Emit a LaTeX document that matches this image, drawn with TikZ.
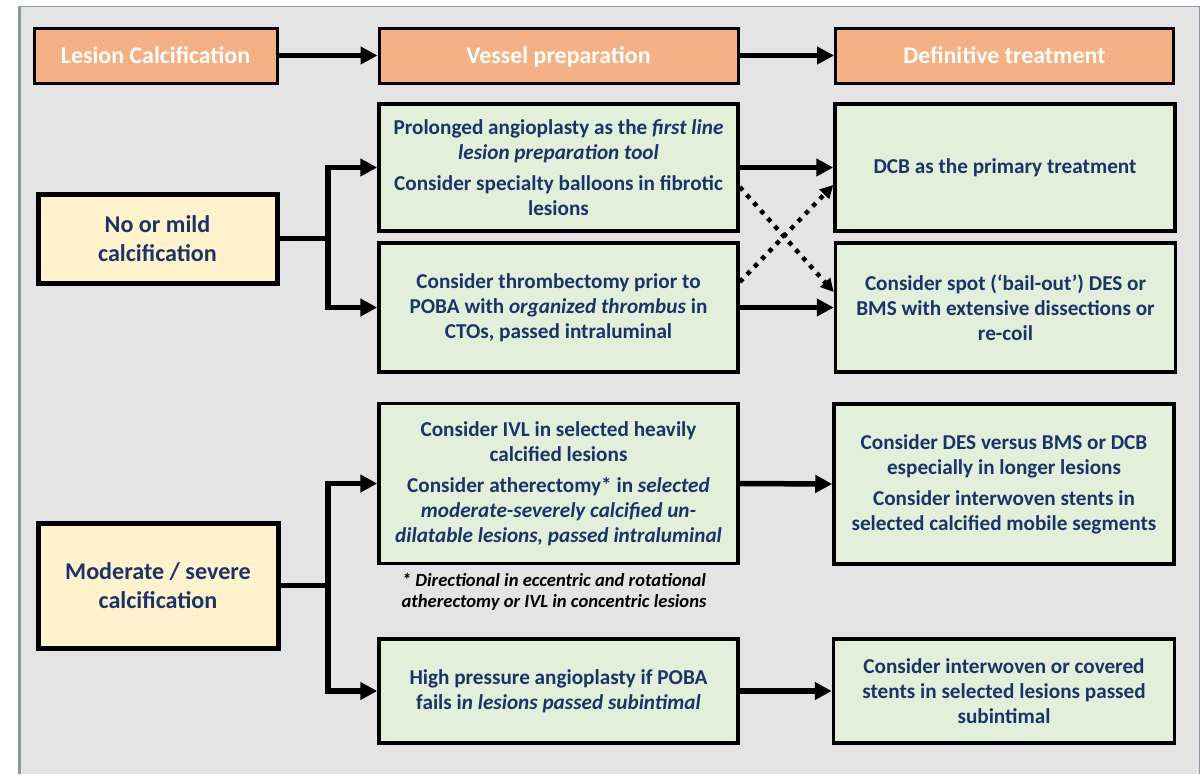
\documentclass[tikz,border=0pt]{standalone}
\usepackage{fontspec}
\setmainfont{Carlito}
\usetikzlibrary{arrows.meta,calc}
\definecolor{panel}{HTML}{E4E4E4}
\definecolor{panelborder}{HTML}{8C95AA}
\definecolor{hdr}{HTML}{F4B183}
\definecolor{ylw}{HTML}{FFF2CC}
\definecolor{grn}{HTML}{E2EFDA}
\definecolor{navy}{HTML}{1B3468}
\begin{document}
\begin{tikzpicture}[x=1pt,y=-1pt,
  hdrbox/.style={draw=black, line width=3pt, fill=hdr, minimum height=55pt, text=white,
    font=\bfseries\fontsize{23.9}{28}\selectfont, inner sep=0pt, text height=18pt, text depth=2.5pt},
  ylwbox/.style={draw=black, line width=5pt, fill=ylw, text=navy, align=center,
    font=\bfseries\fontsize{24.1}{29}\selectfont, inner sep=0pt},
  grnbox/.style={draw=black, line width=3.5pt, fill=grn, text=navy, align=center,
    font=\bfseries\fontsize{21.2}{25}\selectfont, inner sep=0pt},
  notebox/.style={text=black, align=center, font=\bfseries\itshape\fontsize{18.6}{21.5}\selectfont, inner sep=0pt},
  arr/.style={line width=5.5pt, -{Triangle[length=17pt,width=17pt]}},
  dotarr/.style={line width=4.5pt, dash pattern=on 4.5pt off 6pt, -{Triangle[length=13pt,width=13pt]}}
]
\path[use as bounding box] (0,0) rectangle (1204,774);
% background panel
\fill[panel] (18,6) rectangle (1200,774);
\draw[panelborder, line width=1pt] (18.5,774) -- (18.5,6.5) -- (1199.5,6.5) -- (1199.5,774);
\draw[panelborder, line width=3pt] (19.5,6) -- (19.5,774);

% headers
\node[hdrbox, minimum width=243pt] (h1) at (155.5,55.5) {Lesion Calcification};
\node[hdrbox, minimum width=359pt] (h2) at (558.5,55.5) {Vessel preparation};
\node[hdrbox, minimum width=338pt] (h3) at (1004.5,55.5) {Definitive treatment};

% left boxes
\node[ylwbox, minimum width=239pt, minimum height=89pt] (y1) at (157.5,238.5) {No or mild\\calcification};
\node[ylwbox, minimum width=240pt, minimum height=125pt] (y2) at (158,585.5) {Moderate / severe\\calcification};

% vessel preparation boxes
\node[grnbox, minimum width=359pt, minimum height=127pt] (a1) at (558.5,167.5)
  {Prolonged angioplasty as the \textit{first line}\\ \textit{lesion preparation tool}\\[6pt]
   Consider specialty balloons in fibrotic\\ lesions};
\node[grnbox, minimum width=359pt, minimum height=129pt] (a2) at (558.5,307.5)
  {Consider thrombectomy prior to\\ POBA with \textit{organized thrombus} in\\ CTOs, passed intraluminal};
\node[grnbox, minimum width=359pt, minimum height=160pt] (a3) at (558.5,483.5)
  {Consider IVL in selected heavily\\ calcified lesions\\[6pt]
   Consider atherectomy* in \textit{selected}\\ \textit{moderate-severely calcified un-}\\
   \textit{dilatable lesions, passed intraluminal}};
\node[grnbox, minimum width=359pt, minimum height=104pt] (a4) at (558.5,691)
  {High pressure angioplasty if POBA\\ fails i\textit{n lesions passed subintimal}};

% footnote
\node[notebox] (fn) at (554,592)
  {* Directional in eccentric and rotational\\ atherectomy or IVL in concentric lesions};

% definitive treatment boxes
\node[grnbox, minimum width=340pt, minimum height=127pt] (b1) at (1005,167.5)
  {DCB as the primary treatment};
\node[grnbox, minimum width=340pt, minimum height=129pt] (b2) at (1005.5,307.5)
  {Consider spot (‘bail-out’) DES or\\ BMS with extensive dissections or\\ re-coil};
\node[grnbox, minimum width=340pt, minimum height=160pt] (b3) at (1004,484)
  {Consider DES versus BMS or DCB\\ especially in longer lesions\\[6pt]
   Consider interwoven stents in\\ selected calcified mobile segments};
\node[grnbox, minimum width=341pt, minimum height=104pt] (b4) at (1004,691)
  {Consider interwoven or covered\\ stents in selected lesions passed\\ subintimal};

% header arrows
\draw[arr] (h1.east) -- (h2.west);
\draw[arr] (h2.east) -- (h3.west);

% branching arrows
\coordinate (j1) at (328,238.5);
\coordinate (j2) at (328,585.5);
\draw[line width=5.5pt] (y1.east) -- (j1);
\draw[arr] (j1) |- (a1.west);
\draw[arr] (j1) |- (a2.west);
\draw[line width=5.5pt] (y2.east) -- (j2);
\draw[arr] (j2) |- (a3.west);
\draw[arr] (j2) |- (a4.west);

% straight arrows to treatment
\draw[arr] (a1.east) -- (b1.west);
\draw[arr] (a2.east) -- (b2.west);
\draw[arr] (a3.east) -- (b3.west);
\draw[arr] (a4.east) -- (b4.west);

% dotted cross arrows
\draw[dotarr] ($(a1.east)+(0,19.5)$) -- ($(b2.west)+(0,-15.5)$);
\draw[dotarr] ($(a2.east)+(0,-25.5)$) -- ($(b1.west)+(0,17.5)$);
\end{tikzpicture}
\end{document}
